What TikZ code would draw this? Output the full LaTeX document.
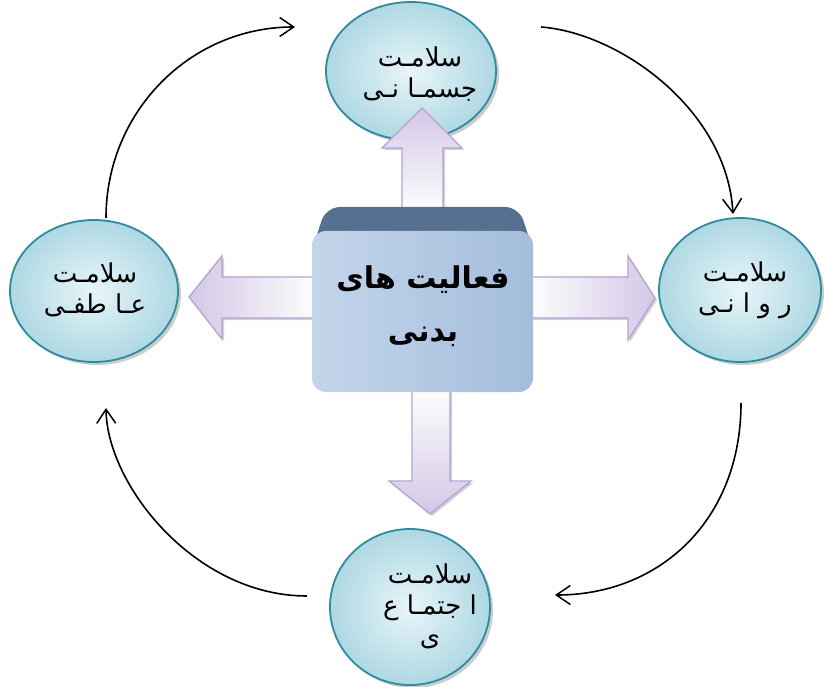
\documentclass[tikz,border=0pt]{standalone}
\usepackage{fontspec}
\newfontfamily\arabicfont[Script=Arabic]{DejaVu Sans}
\TeXXeTstate=1
\usetikzlibrary{shapes.geometric,arrows.meta,shadows,calc}
\definecolor{ellborder}{HTML}{2E8BA0}
\definecolor{ellin}{HTML}{E8F5F9}
\definecolor{ellout}{HTML}{AED8E3}
\definecolor{boxtopc}{HTML}{56708F}
\definecolor{boxl}{HTML}{C4D5EA}
\definecolor{boxm}{HTML}{E4ECF6}
\definecolor{boxr}{HTML}{A3BDDC}
\definecolor{arrborder}{HTML}{B4A2D2}
\definecolor{arrfill}{HTML}{D3C8E6}
\begin{document}
\begin{tikzpicture}[x=1pt,y=-1pt,
  health/.style={ellipse, draw=ellborder, line width=1.8pt, shading=radial,
    inner color=ellin, outer color=ellout, inner sep=0pt,
    drop shadow={shadow xshift=3pt, shadow yshift=-3pt, fill=black!40, opacity=0.5}},
  healthtext/.style={align=center, inner sep=0pt, font=\arabicfont\fontsize{26}{31}\selectfont},
  blockarrow/.style={draw=arrborder, line width=1.3pt, line join=miter},
  arrshadow/.style={fill=black!30, opacity=0.6},
  cycarrow/.style={draw=black, line width=1.6pt, -{Straight Barb[length=14pt,width=19pt,line width=1.5pt]}}
]
\useasboundingbox (0,0) rectangle (825,687);

% health ellipses
\node[health, minimum width=170pt, minimum height=138pt] (top) at (411,71) {};
\node[health, minimum width=168pt, minimum height=142pt] (left) at (94,291) {};
\node[health, minimum width=162pt, minimum height=144pt] (right) at (740,290) {};
\node[health, minimum width=160pt, minimum height=156pt] (bottom) at (410,607) {};

\node[healthtext] (toptext) at (420,74) {\beginR سلامـت\endR\\\beginR جسمـا نـی\endR};
\node[healthtext] (lefttext) at (95,290) {\beginR سلامـت\endR\\\beginR عـا طفـی\endR};
\node[healthtext] (righttext) at (745,290) {\beginR سلامـت\endR\\\beginR ر و ا نـی\endR};
\node[healthtext] (bottomtext) at (430,606) {\beginR سلامـت\endR\\\beginR ا جتمـا ع\endR\\\beginR ی\endR};

% block arrows (shadows)
\fill[arrshadow] (404,215) -- (404,150) -- (384,150) -- (424,110) -- (464,150) -- (445,150) -- (445,215) -- cycle;
\fill[arrshadow] (414,385) -- (414,483) -- (391,483) -- (432,516) -- (473,483) -- (452,483) -- (452,385) -- cycle;
\fill[arrshadow] (320,279) -- (224,279) -- (224,258) -- (191,299) -- (224,341) -- (224,320) -- (320,320) -- cycle;
\fill[arrshadow] (525,279) -- (630,279) -- (630,258) -- (657,300) -- (630,342) -- (630,320) -- (525,320) -- cycle;

% block arrows
\shade[blockarrow, top color=arrfill, bottom color=white]
  (402,215) -- (402,148) -- (382,148) -- (422,108) -- (462,148) -- (443,148) -- (443,215) -- cycle;
\shade[blockarrow, top color=white, bottom color=arrfill]
  (412,385) -- (412,481) -- (389,481) -- (430,514) -- (471,481) -- (450,481) -- (450,385) -- cycle;
\shade[blockarrow, left color=arrfill, right color=white]
  (320,277) -- (222,277) -- (222,256) -- (189,297) -- (222,339) -- (222,318) -- (320,318) -- cycle;
\shade[blockarrow, left color=white, right color=arrfill]
  (525,277) -- (628,277) -- (628,256) -- (655,298) -- (628,340) -- (628,318) -- (525,318) -- cycle;

% central box
\fill[boxtopc, rounded corners=14pt] (326,207) -- (519,207) -- (533,250) -- (312,250) -- cycle;
\shade[rounded corners=14pt, left color=boxl, middle color=boxm, right color=boxr]
  (312,231) rectangle (533,392);
\node[inner sep=0pt, minimum width=221pt, minimum height=161pt] (act) at (422.5,311.5) {};
\node[align=center, inner sep=0pt, font=\arabicfont\bfseries\fontsize{30}{53}\selectfont]
  (acttext) at (423,306) {\beginR فعالیت های\endR\\\beginR بدنی\endR};

% cycle arrows
\coordinate (c1s) at (106,218);
\coordinate (c1e) at (295,27);
\coordinate (c2s) at (541,27);
\coordinate (c2e) at (733,214);
\coordinate (c3s) at (741,403);
\coordinate (c3e) at (555,595);
\coordinate (c4s) at (307,596);
\coordinate (c4e) at (106,408);
\draw[cycarrow] (c1s) .. controls (106,112) and (190,27) .. (c1e);
\draw[cycarrow] (c2s) .. controls (620,33) and (727,110) .. (c2e);
\draw[cycarrow] (c3s) .. controls (741,520) and (660,595) .. (c3e);
\draw[cycarrow] (c4s) .. controls (195,596) and (107,485) .. (c4e);
\end{tikzpicture}
\end{document}
